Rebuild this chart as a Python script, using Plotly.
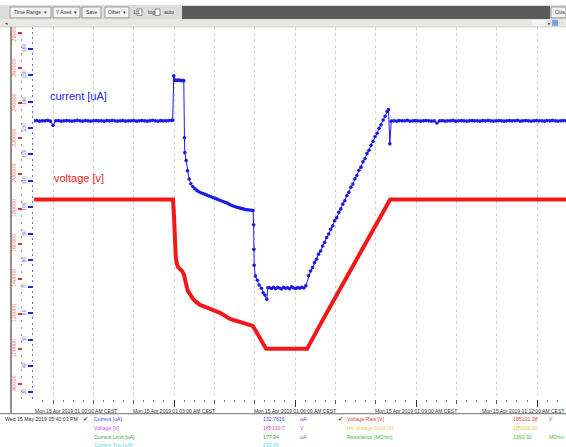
import plotly.graph_objects as go

W, H = 566, 447
FONT = "Liberation Sans, Arial, sans-serif"

# ---------------- data (time = seconds after Mon 15 Apr 2019 01:00:00 CEST) ----------------
current_t = (
    [-28, -24, -20, -16, -12, -8, -4, 0, 4, 8,
     12, 16, 20, 24, 28, 32, 36, 40, 44, 48,
     52, 56, 60, 64, 68, 72, 76, 80, 84, 88,
     92, 96, 100, 104, 108, 112, 116, 120, 124, 128,
     132, 136, 140, 144, 148, 152, 156, 160, 164, 168,
     172, 176]
    + [178, 179.5, 181, 183, 185, 187, 189, 191, 193, 194.5, 195.5, 196, 198, 200, 202.5]
    + [205, 208, 211, 214, 217, 220, 223, 226, 229, 232,
       235, 238, 241, 244, 247, 250, 253, 256, 259, 262,
       265, 268, 271, 274, 277, 280, 283, 286, 289, 292, 295, 297.5]
    + [298.4, 298.7, 299.2, 301, 304, 306.5, 310, 312.5, 315, 318, 319.5]
    + [322, 325, 328, 331, 334, 337, 340, 343, 346, 349,
       352, 355, 358, 361, 364, 367, 370, 373, 376]
    + [380, 383, 386, 389, 392, 395, 398, 401, 404, 407,
       410, 413, 416, 419, 422, 425, 428, 431, 434, 437,
       440, 443, 446, 449, 452, 455, 458, 461, 464, 467,
       470, 473, 476, 479, 482, 485, 488, 491, 494, 497]
    + [499, 501, 503]
    + [507, 511, 515, 519, 523, 527, 531, 535, 539, 543,
       547, 551, 555, 559, 563, 567, 571, 575, 579, 583,
       587, 591, 595, 599, 603, 607, 611, 615, 619, 623,
       627, 631, 635, 639, 643, 647, 651, 655, 659, 663,
       667, 671, 675, 679, 683, 687, 691, 695, 699, 703,
       707, 711, 715, 719, 723, 727, 731, 735, 739, 743,
       747, 751, 755, 759, 763]
)
current_ua = (
    [132.7, 132.8, 132.6, 132.7, 132.7, 132.9, 132.6, 131.0, 132.7, 132.8,
     132.6, 132.7, 132.8, 132.7, 132.6, 132.7, 132.9, 132.7, 132.6, 132.8,
     132.7, 132.6, 132.7, 132.8, 132.7, 132.7, 132.6, 132.8, 132.7, 132.9,
     132.7, 132.6, 132.7, 132.8, 132.6, 132.7, 132.7, 132.8, 132.6, 132.7,
     132.8, 132.7, 132.6, 132.7, 132.9, 132.7, 132.6, 132.8, 132.7, 132.7,
     132.8, 132.9]
    + [132.9, 149.7, 148.1, 148.0, 148.0, 148.1, 148.0, 147.9, 148.0, 147.9, 126.3, 120.7, 117.7, 113.8, 110.7]
    + [108.9, 107.8, 107.0, 106.4, 105.9, 105.5, 105.2, 104.9, 104.6, 104.3,
       104.0, 103.7, 103.4, 103.1, 102.8, 102.5, 102.2, 101.9, 101.6, 101.2,
       100.8, 100.5, 100.2, 100.0, 99.8, 99.6, 99.4, 99.2, 99.1, 99.0, 98.9, 98.8]
    + [93.4, 84.1, 78.1, 74.0, 72.4, 70.6, 69.4, 67.7, 66.8, 65.2, 69.6]
    + [69.6, 69.3, 69.8, 69.2, 69.7, 69.5, 69.1, 69.8, 69.4, 69.6,
       69.2, 69.9, 69.5, 69.3, 69.7, 69.4, 69.8, 69.5, 70.3]
    + [74.1, 75.9, 77.2, 79.1, 80.4, 82.3, 83.5, 85.4, 86.7, 88.6,
       89.9, 91.7, 93.0, 94.9, 96.1, 98.1, 99.4, 101.2, 102.5, 104.4,
       105.7, 107.6, 108.8, 110.8, 112.0, 114.0, 115.2, 117.2, 118.4, 120.4,
       121.6, 123.5, 124.9, 126.7, 128.0, 129.9, 131.2, 133.0, 134.4, 136.2]
    + [137.0, 124.0, 132.6]
    + [132.7, 132.6, 132.8, 132.7, 132.7, 132.9, 132.6, 132.7, 132.8, 132.7,
       132.6, 132.7, 132.8, 132.7, 132.6, 132.7, 131.9, 132.7, 132.8, 132.6,
       132.7, 132.7, 132.9, 132.6, 132.7, 132.8, 132.7, 132.6, 132.7, 132.8,
       132.7, 132.7, 132.6, 132.8, 132.7, 132.9, 132.7, 132.6, 132.7, 132.8,
       132.7, 132.6, 132.7, 132.8, 132.7, 132.7, 132.9, 132.6, 132.7, 132.8,
       132.7, 132.6, 132.7, 132.8, 132.7, 132.7, 132.6, 132.8, 132.7, 132.9,
       132.7, 132.6, 132.7, 132.8, 132.7]
)

voltage_t = [-28, 30, 90, 150, 178.5, 180, 181, 182.5, 184, 186, 189, 192, 195, 196.4, 198.6,
             200.8, 203.8, 208.3, 212.7, 218.7, 226.1, 233.6, 248.4, 263.3, 278.2, 293.1, 297.1,
             300.6, 305, 309.4, 313.9, 316.9, 330, 350, 377.9, 400, 420, 441.8, 460, 480, 501.4,
             540, 600, 660, 720, 763]
voltage_v = [185130, 185128, 185132, 185130, 185130, 175470, 161300, 152800, 148840, 146570,
             145440, 144310, 142040, 138640, 135810, 132980, 130710, 128440, 126740, 125040,
             123910, 122780, 120510, 117110, 115410, 113710, 113140, 110880, 108050, 104650,
             101820, 100000, 100000, 100000, 100000, 115700, 129500, 145000, 157000, 170600,
             185130, 185131, 185130, 185132, 185131, 185131]

time_tick_sec = [0, 180, 360, 540, 720]
time_tick_text = ["Mon 15 Apr 2019 01:00:00 AM CEST", "Mon 15 Apr 2019 01:03:00 AM CEST",
                  "Mon 15 Apr 2019 01:06:00 AM CEST", "Mon 15 Apr 2019 01:09:00 AM CEST",
                  "Mon 15 Apr 2019 01:12:00 AM CEST"]

left_names = ["Current [uA]", "Voltage [V]", "Current Limit [uA]", "Current Trip [uA]"]
left_values = ["132.7616", "185130.7", "177.94", "220.00"]
left_units = ["uA", "V", "uA", ""]
left_colors = ["#4646dc", "#d846d8", "#3f9c3f", "#5ad8d8"]
right_names = ["Voltage Raw [V]", "HV Voltage Cmd [V]", "Resistance [MOhm]"]
right_values = ["185131.38", "185000.00", "1393.32"]
right_units = ["V", "", "MOhm"]
right_colors = ["#e04444", "#ecc444", "#3fbf3f"]
timestamp_text = "Wed 15 May 2019 05:41:03 PM"

toolbar_buttons = ["Time Range  \u25be", "Y Axes  \u25be", "Save", "Other  \u25be"]

# ---------------- helpers (pixel -> paper) ----------------
def PX(x):
    return x / W


def PY(y):
    return 1 - y / H


def txt(text, x, y, color="#333333", size=5, xanchor="left"):
    return dict(text=text, x=PX(x), y=PY(y), xref="paper", yref="paper", xanchor=xanchor,
                yanchor="middle", showarrow=False, font=dict(family=FONT, size=size, color=color))


def rect(x0, y0, x1, y1, fill, line=None, width=1):
    return dict(type="rect", xref="paper", yref="paper", x0=PX(x0), x1=PX(x1), y0=PY(y1), y1=PY(y0),
                fillcolor=fill, line=dict(color=line or fill, width=width if line else 0), layer="above")


X_RANGE = [-28.3, 763.0]
BLUE = "#1c1ce6"
RED = "#f01818"

fig = go.Figure()
fig.add_trace(go.Scatter(x=voltage_t, y=voltage_v, yaxis="y2", mode="lines",
                         line=dict(color=RED, width=4), hoverinfo="skip", showlegend=False))
fig.add_trace(go.Scatter(x=current_t, y=current_ua, yaxis="y", mode="lines+markers",
                         line=dict(color=BLUE, width=1), marker=dict(color=BLUE, size=3.6),
                         hoverinfo="skip", showlegend=False))
fig.add_trace(go.Scatter(x=[None], y=[None], xaxis="x2", yaxis="y", showlegend=False, hoverinfo="skip"))

shapes = []
# toolbar row 1
shapes.append(rect(0, 2, W, 16, "#dcdcdc"))
shapes.append(rect(182, 3, 550, 16, "#5b5b5b"))
shapes.append(rect(551, 4, 566, 15, "#efefef", "#9a9a9a"))
btn_x = [(10, 51), (53, 80), (82, 101), (105, 129)]
for (a, b) in btn_x:
    shapes.append(rect(a, 4, b, 15, "#f2f2f2", "#9a9a9a"))
shapes.append(rect(137, 6, 142, 12.5, "#ffffff", "#8a8a8a"))
shapes.append(rect(155, 6, 160, 12.5, "#ffffff", "#8a8a8a"))
# toolbar row 2
shapes.append(rect(0, 16, W, 24, "#e7e7e3"))
shapes.append(rect(532, 17, 545, 23, "#f4f4f4"))
shapes.append(rect(552, 17, 558, 23, "#7aa0e8"))
shapes.append(dict(type="line", xref="paper", yref="paper", x0=0, x1=1, y0=PY(24), y1=PY(24),
                   line=dict(color="#cfcfcf", width=1), layer="above"))
# left gray bar and bottom separator
shapes.append(rect(10, 24, 12, 413, "#8e8e8e"))
shapes.append(rect(0, 413.5, W, H, "#ffffff"))
shapes.append(dict(type="line", xref="paper", yref="paper", x0=0, x1=1, y0=PY(413.5), y1=PY(413.5),
                   line=dict(color="#6e6e6e", width=1), layer="above"))

annotations = []
for (a, b), label in zip(btn_x, toolbar_buttons):
    annotations.append(txt(label, (a + b) / 2, 9.5, "#333333", 5, "center"))
annotations.append(txt("1:1", 131, 9.5, "#333333", 5))
annotations.append(txt("log", 146, 9.5, "#333333", 5))
annotations.append(txt("auto", 162, 9.5, "#333333", 5))
annotations.append(txt("Clos", 553, 9.5, "#333333", 5))
annotations.append(txt("\u25c2", 3, 20, "#444444", 5))
annotations.append(txt("\u25b8", 546, 20, "#444444", 5))

# chart labels
annotations.append(dict(text="current [uA]", x=-7.4, y=142.0, xref="x", yref="y", xanchor="left",
                        yanchor="middle", showarrow=False, font=dict(family=FONT, size=11, color="#2020e0")))
annotations.append(dict(text="voltage [v]", x=-1.5, y=197600, xref="x", yref="y2", xanchor="left",
                        yanchor="middle", showarrow=False, font=dict(family=FONT, size=11, color="#f02020")))
# first and last time labels kept inside the visible area
annotations.append(txt(time_tick_text[0], 33, 410.5, "#333333", 5))
annotations.append(txt(time_tick_text[-1], 565.5, 410.5, "#333333", 5, "right"))

# bottom status table
annotations.append(txt(timestamp_text, 3, 419, "#333333", 5.2))
annotations.append(txt("\u2714", 81, 419, "#333333", 5.5))
annotations.append(txt("\u2714", 336, 419, "#333333", 5.5))
row_y = [419, 427.7, 436.5, 445]
for i, (n, v, u, c) in enumerate(zip(left_names, left_values, left_units, left_colors)):
    annotations.append(txt(n, 92, row_y[i], c, 5.2))
    annotations.append(txt(v, 261, row_y[i], c, 5.2))
    if u:
        annotations.append(txt(u, 298, row_y[i], c, 5.2))
for i, (n, v, u, c) in enumerate(zip(right_names, right_values, right_units, right_colors)):
    annotations.append(txt(n, 345, row_y[i], c, 5.2))
    annotations.append(txt(v, 511, row_y[i], c, 5.2))
    if u:
        annotations.append(txt(u, 547, row_y[i], c, 5.2))

Y_DOMAIN = [PY(399), PY(24)]
fig.update_layout(
    width=W, height=H, margin=dict(l=0, r=0, t=0, b=0, pad=0),
    paper_bgcolor="#ffffff", plot_bgcolor="#ffffff", showlegend=False,
    font=dict(family=FONT),
    xaxis=dict(domain=[PX(34), 1], range=X_RANGE, tickmode="linear", tick0=0, dtick=60,
               showticklabels=False, ticks="outside", ticklen=4, tickwidth=1, tickcolor="#555555",
               showgrid=True, gridcolor="#d2d2d2", griddash="dot", gridwidth=1, zeroline=False,
               showline=False, anchor="y",
               minor=dict(tick0=0, dtick=15, ticks="outside", ticklen=2, tickcolor="#777777", showgrid=False)),
    xaxis2=dict(overlaying="x", range=X_RANGE, side="bottom", anchor="y", tickmode="array",
                tickvals=time_tick_sec[1:], ticktext=time_tick_text[1:-1] + [""], ticks="outside", ticklen=7,
                tickwidth=1, tickcolor="#333333", showgrid=False, zeroline=False, showline=False,
                tickfont=dict(family=FONT, size=5, color="#333333")),
    yaxis=dict(domain=Y_DOMAIN, range=[27.39, 168.26], tickmode="linear", tick0=0, dtick=10,
               ticks="outside", ticklen=5, tickwidth=2, tickcolor="#2626d8", tickangle=-90,
               tickfont=dict(family=FONT, size=5, color="#6a6ad8"), showgrid=False, zeroline=False,
               showline=False, anchor="x",
               minor=dict(tick0=0, dtick=2, ticks="outside", ticklen=1.5, tickcolor="#6a6ad8", showgrid=False)),
    yaxis2=dict(overlaying="y", side="left", anchor="free", position=PX(22), range=[71213, 283688],
                tickmode="linear", tick0=0, dtick=20000, tickformat="d", ticks="outside", ticklen=4,
                tickwidth=2, tickcolor="#e02c2c", tickangle=-90,
                tickfont=dict(family=FONT, size=5.5, color="#e87474"), showgrid=False, zeroline=False,
                showline=False,
                minor=dict(tick0=0, dtick=4000, ticks="outside", ticklen=1.5, tickcolor="#e87474", showgrid=False)),
    shapes=shapes, annotations=annotations,
)

fig.write_html("out.html", config={"displayModeBar": False},
               post_script="document.body.style.margin='0';document.body.style.overflow='hidden';")
